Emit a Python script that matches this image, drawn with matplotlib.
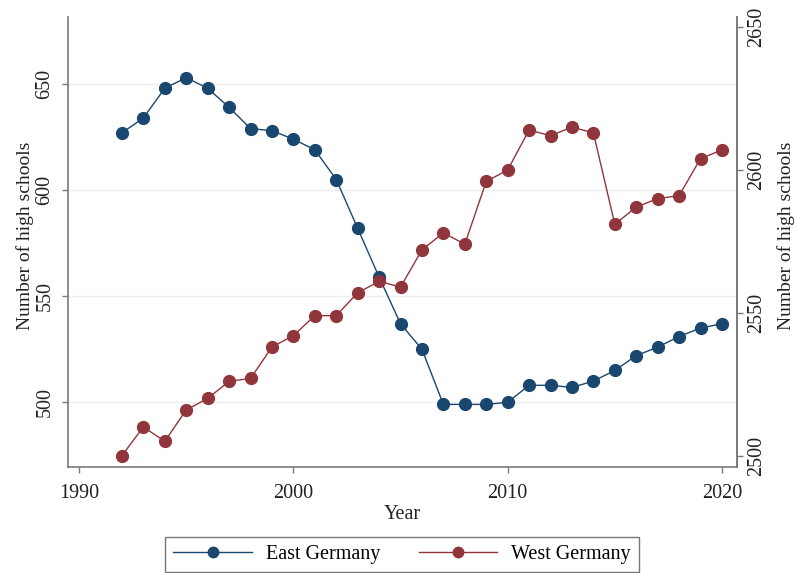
import matplotlib
matplotlib.use("Agg")
import matplotlib.pyplot as plt
from matplotlib.lines import Line2D

# data
years = list(range(1992, 2021))
east = [627, 634, 648, 653, 648, 639, 629, 628, 624, 619, 605, 582, 559, 537,
        525, 499, 499, 499, 500, 508, 508, 507, 510, 515, 522, 526, 531, 535, 537]
west = [2500, 2510, 2505, 2516, 2520, 2526, 2527, 2538, 2542, 2549, 2549, 2557,
        2561, 2559, 2572, 2578, 2574, 2596, 2600, 2614, 2612, 2615, 2613, 2581,
        2587, 2590, 2591, 2604, 2607]
left_ticks = [500, 550, 600, 650]
right_ticks = [2500, 2550, 2600, 2650]
x_ticks = [1990, 2000, 2010, 2020]

NAVY, MAROON = "#1a476f", "#90353b"
AXC, INK = "#7a7a7a", "#222222"
FS = 14.5

plt.rcParams.update({"font.family": ["Liberation Serif", "DejaVu Serif"],
                     "font.size": FS})
fig = plt.figure(figsize=(7.95, 5.73), dpi=100)
ax = fig.add_axes([0.086, 0.185, 0.841, 0.785])
ax2 = ax.twinx()

ax.set_xlim(1989.5, 2020.7)
ax.set_ylim(469.5, 681.5)
ax2.set_ylim(2496.0, 2653.5)

for v in left_ticks:
    ax.axhline(v, color="#efefef", lw=1.0, zorder=0)

ax.plot(years, east, "-o", color=NAVY, lw=1.0, ms=8.5, mec=NAVY, zorder=3)
ax2.plot(years, west, "-o", color=MAROON, lw=1.0, ms=8.5, mec=MAROON, zorder=3)

ax.set_xticks(x_ticks)
ax.set_yticks(left_ticks)
ax2.set_yticks(right_ticks)
ax.set_yticklabels([str(t) for t in left_ticks], rotation=90, va="center")
ax2.set_yticklabels([str(t) for t in right_ticks], rotation=90, va="center")

for a in (ax, ax2):
    a.spines["top"].set_visible(False)
    for s in ("left", "right", "bottom"):
        a.spines[s].set_color(AXC)
        a.spines[s].set_linewidth(1.2)
    a.tick_params(colors=AXC, labelcolor=INK, length=4, width=1.0, labelsize=FS)
ax.tick_params(axis="x", pad=8)
ax.tick_params(axis="y", pad=6)
ax2.tick_params(axis="y", pad=3)
ax2.spines["left"].set_visible(False)
ax2.spines["bottom"].set_visible(False)

ax.set_xlabel("Year", color=INK, fontsize=FS, labelpad=2)
ax.set_ylabel("Number of high schools", color=INK, fontsize=14, labelpad=1)
ax2.set_ylabel("Number of high schools", color=INK, fontsize=14, labelpad=8)
ax.yaxis.label.set_y(0.515)
ax2.yaxis.label.set_y(0.515)

handles = [Line2D([], [], color=NAVY, marker="o", ms=7.5, lw=1.0),
           Line2D([], [], color=MAROON, marker="o", ms=7.5, lw=1.0)]
leg = fig.legend(handles, ["East Germany", "West Germany"], loc="lower center",
                 bbox_to_anchor=(0.506, 0.0), ncol=2, frameon=True,
                 fancybox=False, edgecolor="#555555", fontsize=FS,
                 handlelength=3.9, handletextpad=0.7, columnspacing=1.9,
                 borderpad=0.4, borderaxespad=0.05)
leg.get_frame().set_linewidth(1.0)

fig.savefig("out.png", dpi=100)
